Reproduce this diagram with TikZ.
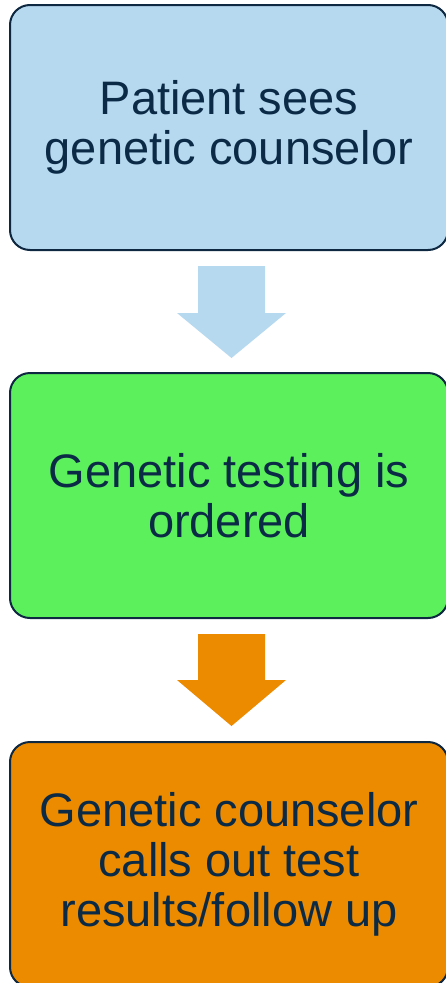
\documentclass[tikz,border=0pt]{standalone}
\usepackage{fontspec}
\setmainfont{Liberation Sans}
\definecolor{navy}{HTML}{0E2841}
\definecolor{txtnavy}{HTML}{0B2A45}
\definecolor{lblue}{HTML}{B7D9F0}
\definecolor{lgreen}{HTML}{5CF05C}
\definecolor{orng}{HTML}{EC8A00}
\begin{document}
\begin{tikzpicture}[x=1pt,y=-1pt,
  stepbox/.style={draw=navy, line width=2pt, rounded corners=20pt,
    minimum width=438pt, minimum height=245pt, inner sep=0pt,
    align=center, text=txtnavy, font=\fontsize{47}{50}\selectfont}]
\useasboundingbox (0,0) rectangle (446,983);
\clip (0,0) rectangle (446,983);
\fill[white] (0,0) rectangle (446,983);
\node[stepbox, fill=lblue] (b1) at (229,127.5) {Patient sees\\genetic counselor};
\node[stepbox, fill=lgreen] (b2) at (229,495.5) {Genetic testing is\\ordered};
\node[stepbox, fill=orng] (b3) at (229,864.5) {Genetic counselor\\calls out test\\results/follow up};
\fill[lblue] (198,266) -- (265,266) -- (265,313) -- (286,313) -- (231.5,358) -- (177,313) -- (198,313) -- cycle;
\fill[orng] (198,634) -- (265,634) -- (265,680) -- (286,680) -- (231.5,726) -- (177,680) -- (198,680) -- cycle;
\end{tikzpicture}
\end{document}
